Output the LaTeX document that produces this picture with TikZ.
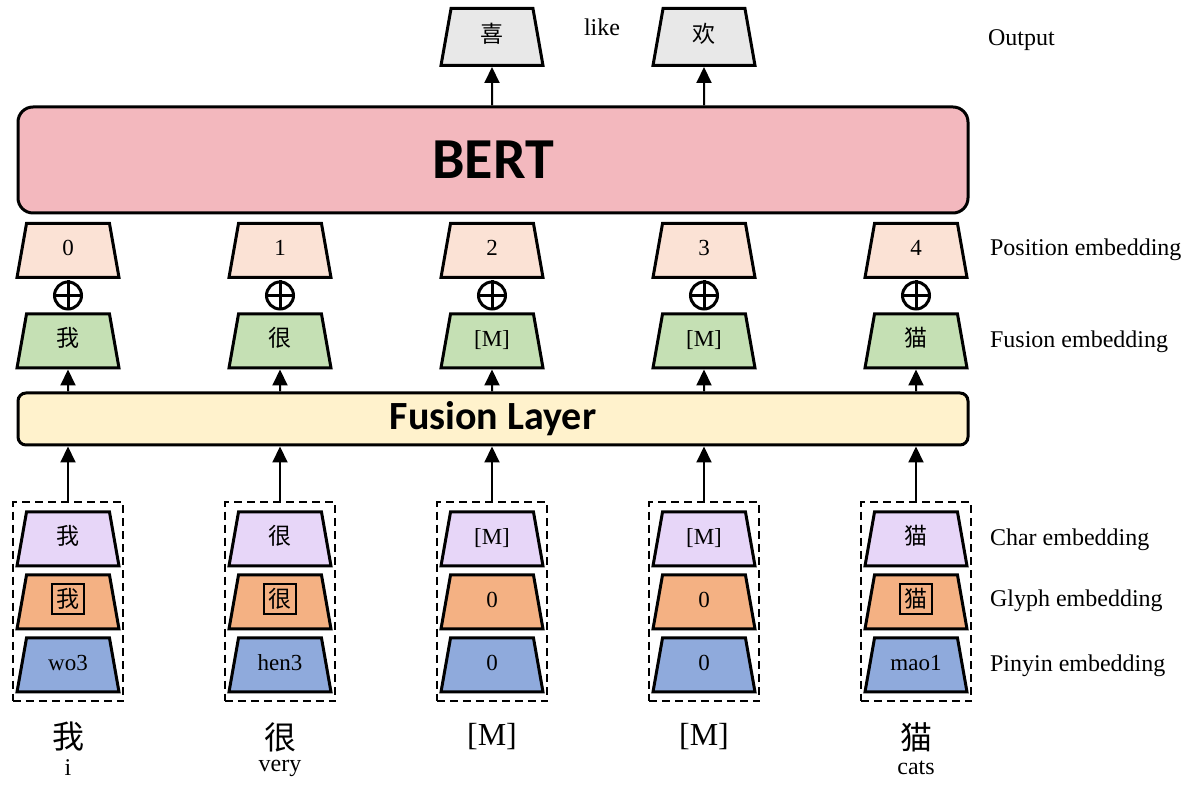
\documentclass[tikz,border=0pt]{standalone}
\usepackage{fontspec}
\setmainfont{Liberation Serif}
\newfontfamily\cjk{Noto Sans CJK SC}
\newfontfamily\headfont{Carlito}
\usetikzlibrary{shapes.geometric,arrows.meta,fit}
\definecolor{outc}{HTML}{E8E8E8}
\definecolor{bertc}{HTML}{F3B8BE}
\definecolor{posc}{HTML}{FBE2D5}
\definecolor{fusc}{HTML}{C5E0B4}
\definecolor{layc}{HTML}{FFF2CC}
\definecolor{charc}{HTML}{E7D6F8}
\definecolor{glyc}{HTML}{F4B183}
\definecolor{pinc}{HTML}{8FAADC}
\newcommand\zh[1]{{\cjk #1}}
\newcommand\glyph[1]{{\setlength\fboxsep{1.8pt}\setlength\fboxrule{1pt}\fbox{\cjk #1}}}
\tikzset{
  emb/.style={trapezium, trapezium left angle=80, trapezium right angle=80, trapezium stretches body,
    draw, line width=1.5pt, minimum width=51pt, text height=8pt, text depth=2.5pt, inner xsep=0pt, inner ysep=8.25pt,
    font=\fontsize{11.5}{13}\selectfont},
  arr/.style={-{Triangle[width=7.5pt,length=8pt]}, line width=1pt},
  lbl/.style={anchor=west, font=\fontsize{12}{14}\selectfont},
}
\begin{document}
\begin{tikzpicture}[x=0.5pt, y=-0.5pt]
  \useasboundingbox (0,0) rectangle (1190,790);
  \node[draw, line width=1.5pt, rounded corners=7.5pt, fill=bertc, minimum width=475pt, minimum height=53pt,
    font=\headfont\bfseries\fontsize{29}{30}\selectfont] (bert) at (493,160) {BERT};
  \node[draw, line width=1.5pt, rounded corners=4pt, fill=layc, minimum width=475pt, minimum height=26pt,
    font=\headfont\bfseries\fontsize{20}{22}\selectfont] (fl) at (493,419) {Fusion Layer};
  \node[emb, fill=outc, inner ysep=9pt] (out2) at (492,37) {\zh{喜}};
  \node[emb, fill=outc, inner ysep=9pt] (out3) at (704,37) {\zh{欢}};
  \draw[arr] (bert.north -| out2) -- (out2.south);
  \draw[arr] (bert.north -| out3) -- (out3.south);
  \node[lbl, anchor=center] (like) at (602,27) {like};
  \node[lbl] (outl) at (981,40) {Output};
  \foreach \x/\t/\g/\p/\b/\e [count=\i from 0] in {68/\zh{我}/\glyph{我}/wo3/\zh{我}/i, 280/\zh{很}/\glyph{很}/hen3/\zh{很}/very,
      492/[M]/0/0/[M]/{}, 704/[M]/0/0/[M]/{}, 916/\zh{猫}/\glyph{猫}/mao1/\zh{猫}/cats} {
    \node[emb, fill=posc] (pos\i) at (\x,250.5) {\i};
    \node[circle, draw, line width=1.5pt, minimum size=13.5pt, inner sep=0pt] (plus\i) at (\x,295.5) {};
    \draw[line width=1.5pt] (plus\i.north) -- (plus\i.south) (plus\i.west) -- (plus\i.east);
    \node[emb, fill=fusc] (fe\i) at (\x,341) {\t};
    \draw[arr] (fl.north -| fe\i) -- (fe\i.south);
    \node[emb, fill=charc] (ch\i) at (\x,539) {\t};
    \node[emb, fill=glyc] (gl\i) at (\x,602) {\g};
    \node[emb, fill=pinc] (py\i) at (\x,665) {\p};
    \node[draw, line width=1pt, dash pattern=on 4pt off 2.5pt, inner xsep=1.2pt, inner ysep=4pt,
      fit=(ch\i.north)(py\i.bottom left corner)(py\i.bottom right corner)] (in\i) {};
    \draw[arr] (in\i.north) -- (fl.south -| in\i);
    \node[font=\fontsize{16}{18}\selectfont] (tok\i) at (\x,737) {\b};
    \node[font=\fontsize{12}{14}\selectfont] (en\i) at (\x,768) {\e};
  }
  \node[lbl] (posl) at (983,250) {Position embedding};
  \node[lbl] (fusl) at (983,342) {Fusion embedding};
  \node[lbl] (charl) at (983,540) {Char embedding};
  \node[lbl] (glyl) at (983,601) {Glyph embedding};
  \node[lbl] (pinl) at (983,666) {Pinyin embedding};
\end{tikzpicture}
\end{document}
